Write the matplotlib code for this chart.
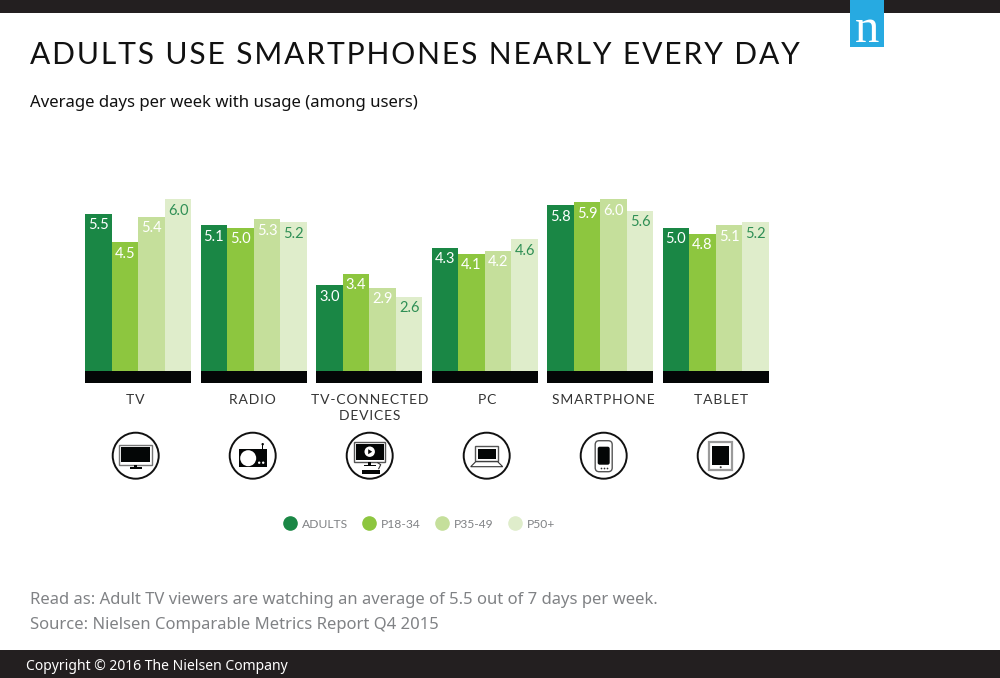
import numpy as np
import matplotlib
matplotlib.use("Agg")
import matplotlib.pyplot as plt
from matplotlib.lines import Line2D
from matplotlib.patches import Rectangle, Circle, FancyBboxPatch, Polygon

# data
categories = ["TV", "RADIO", "TV-CONNECTED\nDEVICES", "PC", "SMARTPHONE", "TABLET"]
series_names = ["ADULTS", "P18-34", "P35-49", "P50+"]
adults = [5.5, 5.1, 3.0, 4.3, 5.8, 5.0]
p18_34 = [4.5, 5.0, 3.4, 4.1, 5.9, 4.8]
p35_49 = [5.4, 5.3, 2.9, 4.2, 6.0, 5.1]
p50 = [6.0, 5.2, 2.6, 4.6, 5.6, 5.2]
series = [adults, p18_34, p35_49, p50]

colors = ["#1a8745", "#8dc63f", "#c5df9b", "#dfedcb"]
label_colors = ["white", "white", "white", "#2f8f55"]
DARK = "#231f20"
W, H = 1000, 678


def spaced(s, n=1):
    # matplotlib has no letter spacing, so put hair spaces between the letters
    return ("\u200a" * n).join(s)


fig = plt.figure(figsize=(W / 100, H / 100), dpi=100, facecolor="white")

# full figure axes in pixels for header, footer, icons
bg = fig.add_axes([0, 0, 1, 1])
bg.set_xlim(0, W)
bg.set_ylim(H, 0)
bg.axis("off")

bg.add_patch(Rectangle((0, 0), W, 13, color=DARK, lw=0))
bg.add_patch(Rectangle((0, 650), W, 28, color=DARK, lw=0))
bg.add_patch(Rectangle((850, 0), 34, 47, color="#27aae1", lw=0, zorder=3))
bg.text(867, 30, "n", color="white", fontsize=35, family="Liberation Serif",
        ha="center", va="center", zorder=4)

bg.text(30, 55, spaced("ADULTS USE SMARTPHONES NEARLY EVERY DAY", 1), fontsize=21.6,
        family=["Lato", "DejaVu Sans"], color="#111111", va="center", ha="left")
bg.text(30, 103, "Average days per week with usage (among users)", fontsize=12.05,
        family="Noto Sans", color="#111111", va="center")
bg.text(30, 600, "Read as: Adult TV viewers are watching an average of 5.5 out of 7 days per week.",
        fontsize=11.97, family="Noto Sans", color="#808285", va="center")
bg.text(30, 625, "Source: Nielsen Comparable Metrics Report Q4 2015",
        fontsize=11.97, family="Noto Sans", color="#808285", va="center")
bg.text(26, 666, "Copyright © 2016 The Nielsen Company", fontsize=10.05,
        family="Noto Sans", color="white", va="center")

# bars
ax = fig.add_axes([85 / W, 1 - 384 / H, 684 / W, 194 / H])
ax.patch.set_alpha(0)
px = 1 / 28.6
ax.set_ylim(-13 * px, 181 * px)
ax.set_xlim(-0.461, 5.461)
ax.axis("off")

x = np.arange(len(categories))
w = 0.2305
for j, vals in enumerate(series):
    bars = ax.bar(x + (j - 1.5) * w, vals, width=w, color=colors[j], lw=0)
    for b, v in zip(bars, vals):
        ax.annotate(f"{v:.1f}", (b.get_x() + w / 2, v), xytext=(0, -8.2),
                    textcoords="offset points", ha="center", va="center",
                    fontsize=10.5, family="Lato", color=label_colors[j])
ax.bar(x, [-12 * px] * len(x), width=4 * w, color="#040606", lw=0)

# category labels and icons are spaced a bit wider than the bar groups
centers = [135.7 + 117 * i for i in range(len(categories))]
for cx, cat in zip(centers, categories):
    lines = cat.split("\n")
    for k, line in enumerate(lines):
        bg.text(cx, 400 + 16.5 * k, spaced(line), fontsize=10, family=["Lato", "DejaVu Sans"],
                color="#333333", ha="center", va="center")

ICON_Y = 455.7
BLK = "#040606"


def rect(cx, x0, y0, x1, y1, fc=BLK, ec="none", lw=0.0):
    bg.add_patch(Rectangle((cx + x0, ICON_Y + y0), x1 - x0, y1 - y0, fc=fc, ec=ec, lw=lw))


def tv_icon(cx):
    rect(cx, -16.5, -11, 16.5, 9, fc="white", ec="#777777", lw=1)
    rect(cx, -14.5, -9, 14.5, 6.5)
    rect(cx, -1.5, 9, 1.5, 12)
    rect(cx, -6, 11.5, 6, 13)


def radio_icon(cx):
    rect(cx, -14, -7, 14, 11)
    bg.add_patch(Circle((cx - 4.5, ICON_Y + 2.5), 8, fc="white", ec="none"))
    bg.add_patch(Circle((cx + 6.5, ICON_Y + 7), 1.2, fc="white", ec="none"))
    bg.add_patch(Circle((cx + 10.5, ICON_Y + 7), 1.2, fc="white", ec="none"))
    rect(cx, 9.5, -11, 10.5, -7)
    bg.add_patch(Circle((cx + 10, ICON_Y - 11.5), 1.2, fc=BLK, ec="none"))


def device_icon(cx):
    rect(cx, -15.5, -13.5, 15.5, 6, fc="white", ec="#555555", lw=1)
    rect(cx, -14, -12, 14, 4.5)
    bg.add_patch(Circle((cx, ICON_Y - 4), 5.2, fc="white", ec="none"))
    bg.add_patch(Polygon([(cx - 1.5, ICON_Y - 6.5), (cx - 1.5, ICON_Y - 1.5), (cx + 2.5, ICON_Y - 4)], fc=BLK))
    rect(cx, -1.5, 6, 1.5, 9)
    rect(cx, -6, 9, 6, 10.5)
    rect(cx, -8, 14, 10, 18.5)
    bg.plot([cx + 8, cx + 11, cx + 9], [ICON_Y + 7, ICON_Y + 9, ICON_Y + 13], color="#333333", lw=0.8)


def laptop_icon(cx):
    rect(cx, -11.5, -9.5, 11.5, 5, fc="white", ec="#555555", lw=1)
    rect(cx, -9, -7, 9, 3.5)
    bg.add_patch(Polygon([(cx - 11, ICON_Y + 6), (cx + 11, ICON_Y + 6), (cx + 16, ICON_Y + 11), (cx - 16, ICON_Y + 11)],
                         fc="white", ec="#333333", lw=0.8))


def phone_icon(cx):
    bg.add_patch(FancyBboxPatch((cx - 6.5, ICON_Y - 13), 13, 27, boxstyle="round,pad=2,rounding_size=4",
                                fc="white", ec="#555555", lw=1))
    bg.add_patch(FancyBboxPatch((cx - 5.5, ICON_Y - 8.5), 11, 17, boxstyle="round,pad=0.5,rounding_size=2",
                                fc=BLK, ec="none"))
    bg.scatter([cx - 3, cx, cx + 3], [ICON_Y + 12] * 3, s=1.5, color="#333333", lw=0)


def tablet_icon(cx):
    rect(cx, -11.5, -14, 11.5, 14, fc="white", ec="#9a9a9a", lw=1.6)
    rect(cx, -8.5, -10, 8.5, 9)
    bg.add_patch(Circle((cx, ICON_Y + 11.5), 1, fc="#333333", ec="none"))


icons = [tv_icon, radio_icon, device_icon, laptop_icon, phone_icon, tablet_icon]
for cx, icon in zip(centers, icons):
    bg.add_patch(Circle((cx, ICON_Y), 23, fc="white", ec="#111111", lw=1.4))
    icon(cx)

# legend
handles = [Line2D([], [], marker="o", ls="none", color=c, markersize=9.5) for c in colors]
fig.legend(handles, series_names, loc="center", bbox_to_anchor=(419.5 / W, 1 - 524 / H),
           ncol=4, frameon=False, labelcolor="#808285", handlelength=1.0, handletextpad=0.45,
           columnspacing=1.3, prop={"family": "Lato", "size": 8.7})

fig.savefig("out.png", dpi=100)
